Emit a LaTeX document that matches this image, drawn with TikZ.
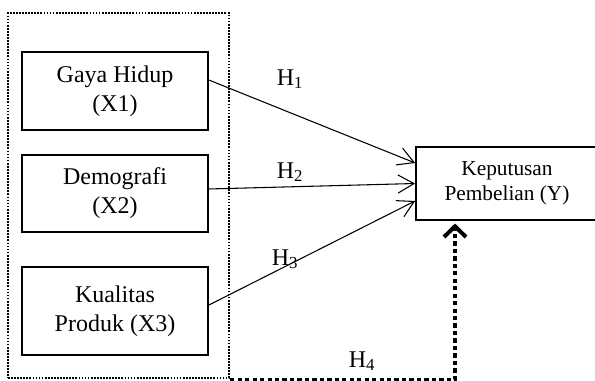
\documentclass[tikz,border=0pt]{standalone}
\usepackage{fontspec}
\setmainfont{Liberation Serif}
\usetikzlibrary{arrows.meta}

\tikzset{
  varbox/.style={draw, line width=1.3pt, minimum width=139.5pt, align=center,
    font=\fontsize{18}{21.75}\selectfont},
  ybox/.style={draw, line width=1.3pt, minimum width=136.5pt, minimum height=54.75pt,
    align=center, font=\fontsize{16}{18.75}\selectfont},
  groupbox/.style={draw, line width=1.8pt, dash pattern=on 1.3pt off 1pt,
    minimum width=165.75pt, minimum height=273.75pt},
  hlabel/.style={inner sep=0.75pt, font=\fontsize{18}{20}\selectfont},
  harrow/.style={line width=0.8pt, -{Straight Barb[length=12pt,width=13.5pt,line width=0.8pt]}},
  h4arrow/.style={line width=2.3pt, dash pattern=on 3.2pt off 2.4pt,
    -{Straight Barb[length=8pt,width=16.5pt,line width=3pt]}}
}

\begin{document}
\begin{tikzpicture}[x=0.75pt,y=0.75pt,yscale=-1,xscale=1]
\useasboundingbox (0,0) rectangle (595,380);

% variables
\node [groupbox] (grp) at (118.5,195.5) {};
\node [varbox, minimum height=58.5pt] (x1) at (115,91) {Gaya Hidup\\(X1)};
\node [varbox, minimum height=57.75pt] (x2) at (115,193.5) {Demografi\\(X2)};
\node [varbox, minimum height=66pt] (x3) at (115,311) {Kualitas\\Produk (X3)};
\node [ybox] (y) at (507,183.5) {Keputusan\\Pembelian (Y)};

% labels
\node [hlabel] (h1) at (290,79) {H\textsubscript{1}};
\node [hlabel] (h2) at (290,172) {H\textsubscript{2}};
\node [hlabel] (h3) at (285,259) {H\textsubscript{3}};
\node [hlabel] (h4) at (362,361) {H\textsubscript{4}};

% connectors
\draw [harrow] ([yshift=-8.25pt]x1.east) -- ([yshift=-15.4pt]y.west);
\draw [harrow] ([yshift=-3.4pt]x2.east) -- (y.west);
\draw [harrow] ([yshift=-4.5pt]x3.east) -- ([yshift=13.1pt]y.west);
\draw [h4arrow] (grp.south east) -| ([xshift=-39pt,yshift=2pt]y.south);

\end{tikzpicture}
\end{document}
